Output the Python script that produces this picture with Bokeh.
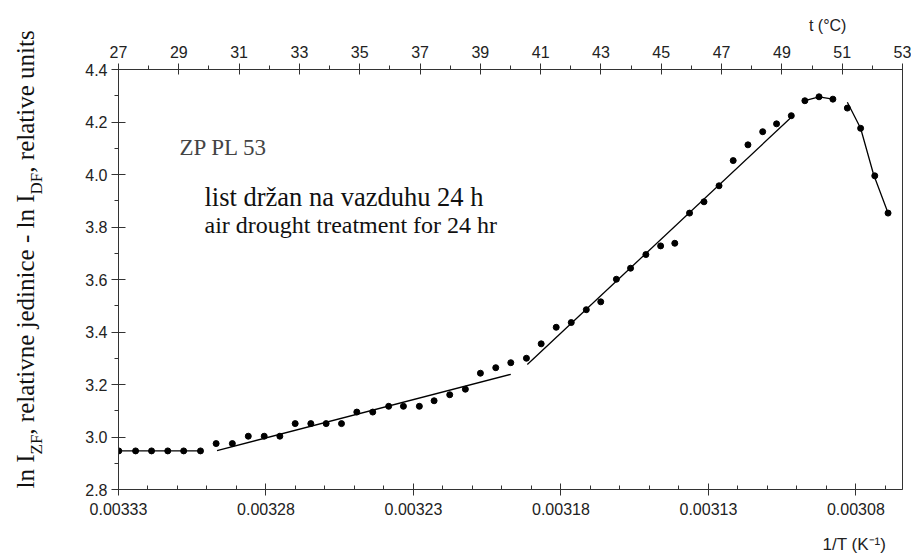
import math
from bokeh.plotting import figure
from bokeh.layouts import row, column
from bokeh.models import Range1d, LinearAxis, FixedTicker, PrintfTickFormatter
from bokeh.core.properties import value
from bokeh.embed import file_html
from bokeh.resources import INLINE

# ---------------- data ----------------
inv_T = [0.0033299, 0.0033242, 0.0033188, 0.0033133, 0.0033079, 0.0033022,
         0.0032969, 0.0032914, 0.0032860, 0.0032806, 0.0032753, 0.0032701,
         0.0032648, 0.0032596, 0.0032544, 0.0032492, 0.0032438, 0.0032384,
         0.0032334, 0.0032280, 0.0032230, 0.0032177, 0.0032124, 0.0032073,
         0.0032021, 0.0031970, 0.0031917, 0.0031867, 0.0031816, 0.0031765,
         0.0031714, 0.0031665, 0.0031612, 0.0031564, 0.0031512, 0.0031462,
         0.0031414, 0.0031364, 0.0031315, 0.0031264, 0.0031216, 0.0031166,
         0.0031116, 0.0031069, 0.0031019, 0.0030973, 0.0030925, 0.0030878,
         0.0030829, 0.0030784, 0.0030736, 0.0030691]
ln_ratio = [2.947, 2.947, 2.947, 2.947, 2.947, 2.947, 2.975, 2.975, 3.003, 3.003,
            3.003, 3.051, 3.051, 3.051, 3.051, 3.095, 3.095, 3.117, 3.117, 3.117,
            3.138, 3.161, 3.182, 3.243, 3.264, 3.283, 3.300, 3.355, 3.418, 3.436,
            3.485, 3.515, 3.601, 3.643, 3.695, 3.728, 3.738, 3.853, 3.896, 3.957,
            4.053, 4.113, 4.163, 4.193, 4.224, 4.281, 4.296, 4.287, 4.253, 4.176,
            3.995, 3.853]

# fitted segments
flat_x = [0.0033299, 0.0033022]
flat_y = [2.947, 2.947]
low_x = [0.0032966, 0.0031970]
low_y = [2.948, 3.239]
mid_x = [0.0031914, 0.0031019]
mid_y = [3.276, 4.218]
top_x = [0.0030973, 0.0030925, 0.0030878]
top_y = [4.281, 4.296, 4.287]
drop_x = [0.0030829, 0.0030784, 0.0030740, 0.0030691]
drop_y = [4.275, 4.176, 4.000, 3.853]

# axes / ticks
x_major = [0.00333, 0.00328, 0.00323, 0.00318, 0.00313, 0.00308]
x_minor = [0.00333, 0.00332, 0.00331, 0.00330, 0.00329, 0.00328, 0.00327, 0.00326,
           0.00325, 0.00324, 0.00323, 0.00322, 0.00321, 0.00320, 0.00319, 0.00318,
           0.00317, 0.00316, 0.00315, 0.00314, 0.00313, 0.00312, 0.00311, 0.00310,
           0.00309, 0.00308, 0.00307]
t_major = [27, 29, 31, 33, 35, 37, 39, 41, 43, 45, 47, 49, 51, 53]
t_minor = [27, 28, 29, 30, 31, 32, 33, 34, 35, 36, 37, 38, 39, 40, 41, 42, 43, 44,
           45, 46, 47, 48, 49, 50, 51, 52, 53]
y_major = [2.8, 3.0, 3.2, 3.4, 3.6, 3.8, 4.0, 4.2, 4.4]
y_minor = [2.8, 2.9, 3.0, 3.1, 3.2, 3.3, 3.4, 3.5, 3.6, 3.7, 3.8, 3.9, 4.0, 4.1,
           4.2, 4.3, 4.4]

X0, X1 = 0.00333, 0.0030642
Y0, Y1 = 2.8, 4.4
T0, T1 = 27, 53

W, H = 911, 555
LEFT_W = 48
TOP_H = 38
BOT_H = 25
FR_L, FR_R, FR_T, FR_B = 118, 902, 69, 489
MAIN_W = W - LEFT_W
MAIN_H = H - TOP_H - BOT_H
CENTRAL = 0.34   # text is drawn centred on its anchor: baseline sits 0.34 em below it


def blank(width, height, xr, yr):
    f = figure(width=width, height=height, x_range=Range1d(*xr), y_range=Range1d(*yr),
               output_backend="svg", toolbar_location=None,
               x_axis_location=None, y_axis_location=None, min_border=0)
    f.title.visible = False
    f.grid.visible = False
    f.outline_line_color = None
    f.background_fill_color = "white"
    f.border_fill_color = "white"
    return f

# ---------------- main figure ----------------
fig = figure(width=MAIN_W, height=MAIN_H, x_range=Range1d(X0, X1), y_range=Range1d(Y0, Y1),
             output_backend="svg", toolbar_location=None,
             min_border_left=FR_L - LEFT_W, min_border_right=W - FR_R,
             min_border_top=FR_T - TOP_H, min_border_bottom=(H - BOT_H) - FR_B)
fig.title.visible = False
fig.xgrid.visible = False
fig.ygrid.visible = False
fig.outline_line_color = "#333333"
fig.background_fill_color = "white"
fig.border_fill_color = "white"

xa = fig.below[0]
ya = fig.left[0]
fig.extra_x_ranges = {"t": Range1d(T0, T1)}
ta = LinearAxis(x_range_name="t")
fig.add_layout(ta, "above")

xa.ticker = FixedTicker(ticks=x_major, minor_ticks=x_minor)
xa.formatter = PrintfTickFormatter(format="%.5f")
ta.ticker = FixedTicker(ticks=t_major, minor_ticks=t_minor)
ta.formatter = PrintfTickFormatter(format="%d")
ya.ticker = FixedTicker(ticks=y_major, minor_ticks=y_minor)
ya.formatter = PrintfTickFormatter(format="%.1f")

for ax in (xa, ya, ta):
    ax.axis_line_color = "#333333"
    ax.major_tick_line_color = "#333333"
    ax.minor_tick_line_color = "#333333"
    ax.major_label_text_font = "Liberation Sans"
    ax.major_label_text_font_size = "16px"
    ax.major_label_text_color = "#222222"

ya.major_tick_in, ya.major_tick_out = 7, 7
ya.minor_tick_in, ya.minor_tick_out = 0, 4
ya.major_label_standoff = 4
xa.major_tick_in, xa.major_tick_out = 6, 6
xa.minor_tick_in, xa.minor_tick_out = 4, 0
xa.major_label_standoff = 7
ta.major_tick_in, ta.major_tick_out = 5, 6
ta.minor_tick_in, ta.minor_tick_out = 0, 4
ta.major_label_standoff = 6

for sx, sy in ((flat_x, flat_y), (low_x, low_y), (mid_x, mid_y), (top_x, top_y), (drop_x, drop_y)):
    fig.line(sx, sy, line_color="black", line_width=1.3)
fig.scatter(inv_T, ln_ratio, size=6, color="black")


def px2x(px):
    return X0 + (px - FR_L) / float(FR_R - FR_L) * (X1 - X0)


def py2y(py):
    return Y1 - (py - FR_T) / float(FR_B - FR_T) * (Y1 - Y0)


def note(text, px, base, size, color="#111111"):
    fig.text(x=[px2x(px)], y=[py2y(base - CENTRAL * size)], text=[text],
             text_font=value("Liberation Serif"), text_font_size=value(f"{size}px"),
             text_align="left", text_baseline="alphabetic", text_color=color)

note("ZP PL 53", 179, 155, 23, color="#444444")
note("list držan na vazduhu 24 h", 204, 206, 26.5)
note("air drought treatment for 24 hr", 204, 233, 24)

# ---------------- strips with axis titles ----------------
top_fig = blank(MAIN_W, TOP_H, (LEFT_W, W), (-TOP_H, 0))
top_fig.text(x=[808], y=[-(30 - CENTRAL * 16)], text=["t (°C)"],
             text_font=value("Liberation Sans"), text_font_size=value("16px"),
             text_color="#222222", text_align="left", text_baseline="alphabetic")

bot_fig = blank(MAIN_W, BOT_H, (LEFT_W, W), (-H, -(H - BOT_H)))
bot_fig.text(x=[823], y=[-(550 - CENTRAL * 17)], text=["1/T (K⁻¹)"],
             text_font=value("Liberation Sans"), text_font_size=value("17px"),
             text_color="#222222", text_align="left", text_baseline="alphabetic")

# rotated y title with subscripts (Times metrics chain the pieces)
TNR = {"l": 278, "n": 500, " ": 250, "I": 333, "Z": 611, "F": 556, ",": 250, "r": 333,
       "e": 444, "a": 444, "t": 278, "i": 278, "v": 500, "j": 278, "d": 500, "c": 444,
       "-": 333, "D": 722, "u": 500, "s": 389}


def tw(s, size):
    return sum(TNR.get(ch, 500) for ch in s) / 1000.0 * size

MAIN_FS, SUB_FS = 25, 17
MAIN_BASE, SUB_BASE = 33, 42
pieces = [("ln I", False), ("ZF", True), (", relativne jedinice - ln I", False),
          ("DF", True), (", relative units", False)]
left_fig = blank(LEFT_W, H, (0, LEFT_W), (-H, 0))
ypos = 488.0
for txt, is_sub in pieces:
    fs = SUB_FS if is_sub else MAIN_FS
    base = SUB_BASE if is_sub else MAIN_BASE
    left_fig.text(x=[base - CENTRAL * fs], y=[-ypos], text=[txt],
                  text_font=value("Liberation Serif"), text_font_size=value(f"{fs}px"),
                  text_color="#111111", angle=math.pi / 2,
                  text_align="left", text_baseline="alphabetic")
    ypos -= tw(txt, fs)

p = row(left_fig, column(top_fig, fig, bot_fig))

open("out.html", "w").write(file_html(p, INLINE))
